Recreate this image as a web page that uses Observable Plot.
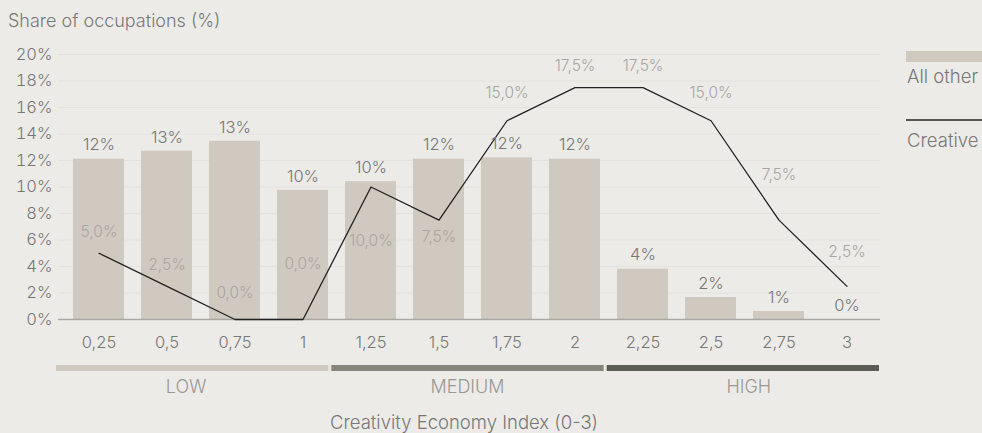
<!DOCTYPE html>
<html>
<head>
<meta charset="utf-8">
<script src="https://cdn.jsdelivr.net/npm/d3@7"></script>
<script src="https://cdn.jsdelivr.net/npm/@observablehq/plot@0.6"></script>
<style>
  html, body { margin: 0; padding: 0; background: #edebe8; }
  #chart { width: 982px; height: 433px; overflow: hidden; }
</style>
</head>
<body>
<div id="chart"></div>
<script>
// ---- data ----
const categories = ["0,25","0,5","0,75","1","1,25","1,5","1,75","2","2,25","2,5","2,75","3"];
const allOther = [12.1, 12.7, 13.45, 9.75, 10.4, 12.1, 12.2, 12.1, 3.8, 1.66, 0.6, 0];
const creative = [5.0, 2.5, 0.0, 0.0, 10.0, 7.5, 15.0, 17.5, 17.5, 15.0, 7.5, 2.5];
const yTicks = [0, 2, 4, 6, 8, 10, 12, 14, 16, 18, 20];
const groups = ["LOW", "MEDIUM", "HIGH"];
const seriesNames = ["All other", "Creative"];
const yTitle = "Share of occupations (%)";
const xTitle = "Creativity Economy Index (0-3)";

const rows = categories.map((c, i) => ({c, a: allOther[i], k: creative[i]}));

// label offsets for the line labels (px, relative to each point)
const lineLabelDy = [-21, -21, -26, -55, 54, 17, -28, -22, -22, -28, -45, -34];

const FONT = "Inter, 'Open Sans', sans-serif";

const plot = Plot.plot({
  width: 982,
  height: 433,
  marginLeft: 58,
  marginRight: 102,
  marginTop: 54,
  marginBottom: 114,
  style: {background: "transparent", fontFamily: FONT, fontSize: "16.5px", color: "#777", fontWeight: 300},
  x: {type: "band", domain: categories, paddingInner: 0.25, paddingOuter: 0.142, align: 0.667,
      label: null, tickSize: 0, tickPadding: 17},
  y: {domain: [0, 20], ticks: yTicks, tickFormat: d => d + "%", label: null, tickSize: 0, tickPadding: 6},
  marks: [
    Plot.ruleY(yTicks.filter(d => d > 0), {stroke: "#e4e2dd", strokeWidth: 1}),
    Plot.barY(rows, {x: "c", y: "a", fill: "#d0c9bf"}),
    Plot.ruleY([0], {stroke: "#a9a7a2", strokeWidth: 1.5}),
    Plot.line(rows, {x: "c", y: "k", stroke: "#222", strokeWidth: 1.3}),
    Plot.text(rows, {x: "c", y: "a", text: d => Math.round(d.a) + "%", dy: -14,
      fill: "#777", fontSize: 16.5}),
    ...rows.map((r, i) => Plot.text([r], {x: "c", y: "k",
      text: d => d.k.toFixed(1).replace(".", ",") + "%",
      dy: lineLabelDy[i], fill: "#a8a6a2", fontSize: 15.5}))
  ]
});

document.getElementById("chart").appendChild(plot);
const svg = d3.select(plot);

const xs = plot.scale("x");
const ys = plot.scale("y");
const [r0, r1] = xs.range;
const gap = 3;
const start = r0 - 2, end = r1 - 1;
const segW = (end - start - 2 * gap) / 3;
const groupColors = ["#d0c9bf", "#85857a", "#5b5b56"];
const gy = ys.apply(0) + 46;

groups.forEach((g, i) => {
  const x0 = start + i * (segW + gap);
  svg.append("text").attr("x", x0 + segW / 2 + (i - 1) * 6).attr("y", gy + 28)
    .attr("text-anchor", "middle").attr("fill", "#9a9894").style("font-size", "18px")
    .text(g);
  svg.append("rect").attr("x", x0).attr("y", gy).attr("width", segW).attr("height", 6)
    .attr("fill", groupColors[i]);
});

// titles
svg.append("text").attr("x", 8).attr("y", 27).attr("text-anchor", "start")
  .attr("fill", "#777").style("font-size", "18px").text(yTitle);
svg.append("text").attr("x", (r0 + r1) / 2 - 5).attr("y", 429).attr("text-anchor", "middle")
  .attr("fill", "#777").style("font-size", "18.5px").text(xTitle);

// legend
svg.append("rect").attr("x", 906).attr("y", 51).attr("width", 80).attr("height", 11).attr("fill", "#d0c9bf");
svg.append("text").attr("x", 907).attr("y", 83).attr("text-anchor", "start")
  .attr("fill", "#777").style("font-size", "18.5px").text(seriesNames[0]);
svg.append("line").attr("x1", 906).attr("x2", 990).attr("y1", 120).attr("y2", 120)
  .attr("stroke", "#222").attr("stroke-width", 1.3);
svg.append("text").attr("x", 907).attr("y", 147).attr("text-anchor", "start")
  .attr("fill", "#777").style("font-size", "18.5px").text(seriesNames[1]);
</script>
</body>
</html>
